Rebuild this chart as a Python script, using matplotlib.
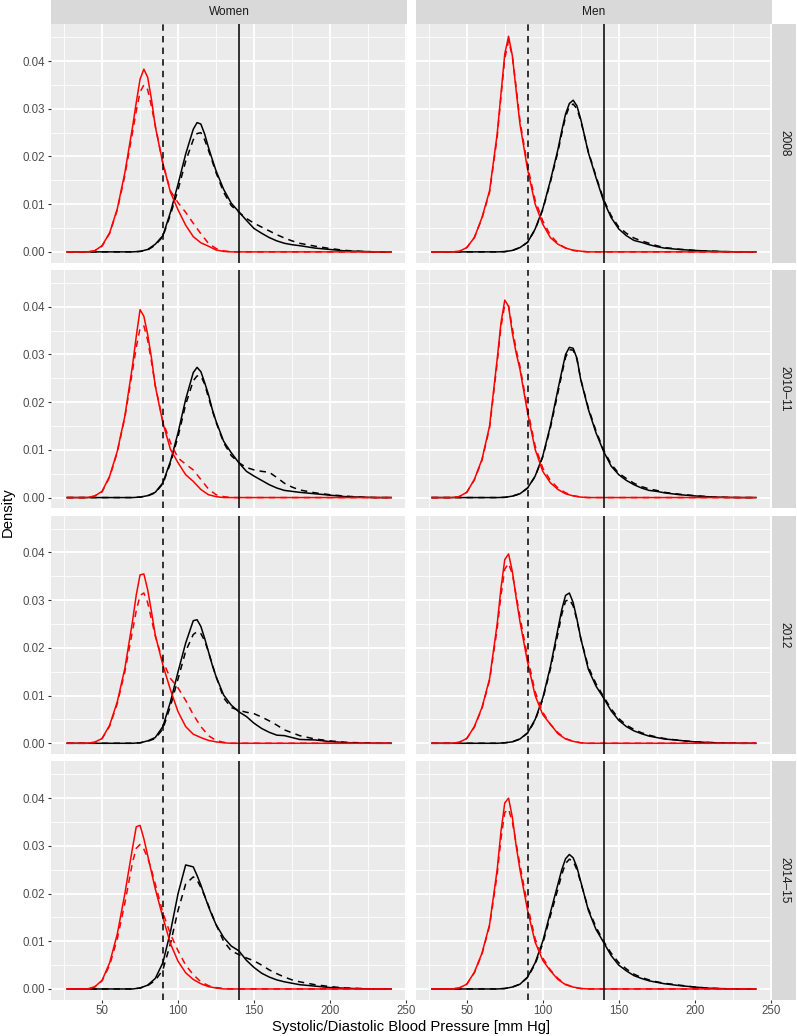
#!/usr/bin/env python3
"""
Density of systolic / diastolic blood pressure by sex and survey year
(ggplot-style facet grid redrawn in matplotlib)
"""

import matplotlib
matplotlib.use("Agg")
import matplotlib.pyplot as plt
from matplotlib.ticker import MultipleLocator, FormatStrFormatter

plt.rcParams["font.family"] = ["Liberation Sans", "DejaVu Sans"]

SEXES = ["Women", "Men"]
YEARS = ["2008", "2010\u201311", "2012", "2014\u201315"]
DIA_CUT = 90
SYS_CUT = 140

DIA_X = [27, 40, 45, 50, 55, 60, 65, 70, 72.5, 75, 77.5, 80, 82.5, 85, 90, 95,
         100, 105, 110, 115, 120, 125, 130, 135, 240.2]
SYS_X = [27, 70, 75, 80, 85, 90, 95, 100, 105, 110, 112.5, 115, 117.5, 120,
         122.5, 125, 130, 135, 140, 145, 150, 155, 160, 165, 170, 175, 180,
         190, 200, 210, 220, 230, 240.2]

# densities in units of 0.001 ; *_D = dashed curve
W08_DIA = [0, 0, 0.2, 1.3, 4.0, 9.0, 16.6, 26.1, 31.3, 36.2, 38.3, 36.6, 32.0, 26.3, 18.6, 12.5,
           8.8, 5.6, 3.2, 1.9, 1.2, 0.4, 0.1, 0, 0]
W08_DIA_D = [0, 0, 0.2, 1.2, 3.9, 8.8, 16.0, 25.0, 29.5, 33.5, 35.0, 34.0, 30.5, 26.5, 18.5, 12.8,
             10.3, 8.3, 6.0, 3.8, 1.8, 0.7, 0.2, 0, 0]
W08_SYS = [0, 0, 0.1, 0.5, 1.6, 3.4, 8.3, 14.2, 20.5, 25.7, 27.1, 26.8, 24.7, 21.9, 19.4, 17.0,
           13.1, 10.2, 8.4, 6.6, 4.9, 3.9, 3.0, 2.3, 1.8, 1.5, 1.3, 0.8, 0.5, 0.2, 0.1, 0, 0]
W08_SYS_D = [0, 0, 0.1, 0.4, 1.4, 3.2, 7.8, 13.0, 19.0, 23.5, 24.8, 25.0, 23.5, 21.3, 19.0, 16.6,
             12.5, 9.7, 8.3, 7.0, 6.0, 5.2, 4.4, 3.6, 2.9, 2.3, 1.8, 1.2, 0.7, 0.3, 0.1, 0, 0]

M08_DIA = [0, 0, 0.1, 0.9, 3.0, 7.2, 12.8, 24.7, 33.1, 41.5, 45.2, 41.1, 33.8, 26.8, 17.3, 10.0,
           5.8, 3.0, 1.6, 0.8, 0.35, 0.15, 0, 0, 0]
M08_DIA_D = [0, 0, 0.1, 0.9, 3.0, 7.0, 12.5, 24.0, 32.5, 40.5, 44.3, 41.0, 34.5, 27.5, 18.0, 10.8,
             6.5, 3.5, 1.8, 0.8, 0.3, 0.1, 0, 0, 0]
M08_SYS = [0, 0, 0.05, 0.3, 0.9, 2.0, 4.8, 9.0, 14.9, 21.5, 25.4, 28.9, 31.1, 31.8, 30.6, 27.8,
           20.8, 15.6, 10.7, 7.2, 4.8, 3.4, 2.4, 2.0, 1.5, 1.1, 0.8, 0.5, 0.3, 0.15, 0.05, 0, 0]
M08_SYS_D = [0, 0, 0.05, 0.3, 0.9, 2.0, 4.7, 8.8, 14.6, 21.0, 24.8, 28.3, 30.5, 31.0, 30.0, 27.5,
             21.0, 15.9, 11.0, 7.6, 5.2, 3.9, 2.9, 2.3, 1.8, 1.3, 0.9, 0.55, 0.3, 0.15, 0.05, 0, 0]

W10_DIA = [0, 0, 0.3, 1.3, 4.5, 9.7, 17.1, 27.6, 33.8, 39.4, 38.0, 34.2, 29.3, 23.4, 15.7, 10.1,
           7.3, 4.8, 3.4, 1.7, 0.6, 0.2, 0, 0, 0]
W10_DIA_D = [0, 0, 0.3, 1.2, 4.3, 9.5, 16.8, 26.5, 31.5, 35.5, 36.0, 33.0, 28.5, 23.5, 16.0, 11.5,
             8.3, 7.0, 5.8, 3.8, 1.8, 0.6, 0.2, 0, 0]
W10_SYS = [0, 0, 0.1, 0.4, 1.1, 3.1, 7.6, 13.6, 20.6, 26.2, 27.3, 26.4, 24.1, 21.6, 18.5, 16.0,
           11.8, 9.4, 7.3, 5.5, 4.5, 3.6, 2.7, 2.0, 1.5, 1.3, 1.1, 0.8, 0.5, 0.2, 0.1, 0, 0]
W10_SYS_D = [0, 0, 0.1, 0.35, 1.0, 2.9, 7.2, 12.8, 19.5, 24.5, 25.5, 25.5, 23.8, 21.0, 18.3, 15.8,
             11.5, 8.8, 7.3, 6.3, 5.8, 5.5, 5.3, 4.2, 3.0, 2.2, 1.6, 1.0, 0.6, 0.3, 0.1, 0, 0]

M10_DIA = [0, 0, 0.2, 1.1, 3.8, 8.0, 15.0, 29.0, 36.6, 41.4, 40.1, 34.5, 30.3, 26.9, 17.8, 10.1,
           5.5, 3.1, 1.7, 0.8, 0.35, 0.1, 0, 0, 0]
M10_DIA_D = [0, 0, 0.2, 1.1, 3.7, 7.8, 14.6, 28.2, 35.8, 40.4, 40.2, 35.5, 31.0, 27.5, 18.5, 10.8,
             6.2, 3.6, 2.0, 1.0, 0.4, 0.1, 0, 0, 0]
M10_SYS = [0, 0, 0.05, 0.3, 0.8, 2.0, 4.5, 8.7, 15.0, 22.7, 26.4, 30.0, 31.5, 31.3, 29.2, 24.7,
           18.5, 13.6, 9.7, 6.6, 4.8, 3.6, 2.7, 2.0, 1.5, 1.3, 1.0, 0.6, 0.35, 0.15, 0.05, 0, 0]
M10_SYS_D = [0, 0, 0.05, 0.3, 0.8, 2.0, 4.4, 8.5, 14.6, 22.0, 25.8, 29.4, 31.0, 30.9, 29.0, 24.8,
             18.8, 14.0, 10.0, 7.0, 5.1, 4.0, 3.0, 2.3, 1.8, 1.5, 1.1, 0.7, 0.4, 0.15, 0.05, 0, 0]

W12_DIA = [0, 0, 0.2, 1.0, 3.8, 8.7, 15.7, 25.5, 31.1, 35.3, 35.5, 32.2, 27.6, 22.7, 16.4, 11.2,
           6.6, 3.5, 1.9, 1.2, 0.6, 0.3, 0.1, 0, 0]
W12_DIA_D = [0, 0, 0.2, 1.0, 3.6, 8.3, 15.0, 23.5, 27.8, 31.0, 31.5, 29.5, 26.0, 22.5, 17.2, 13.6,
             11.6, 9.0, 6.0, 3.5, 1.6, 0.6, 0.2, 0, 0]
W12_SYS = [0, 0, 0.1, 0.5, 1.2, 3.5, 8.7, 15.0, 21.0, 25.7, 25.9, 24.5, 22.0, 19.2, 16.4, 14.0,
           10.1, 8.0, 6.6, 5.6, 4.2, 3.1, 2.3, 1.7, 1.6, 1.2, 0.8, 0.7, 0.35, 0.15, 0.05, 0, 0]
W12_SYS_D = [0, 0, 0.1, 0.4, 1.0, 3.0, 7.8, 13.5, 19.3, 22.8, 23.4, 23.0, 21.5, 19.2, 16.5, 14.0,
             9.5, 7.5, 6.9, 6.5, 6.2, 5.5, 4.7, 3.8, 2.8, 2.2, 1.6, 0.9, 0.5, 0.2, 0.1, 0, 0]

M12_DIA = [0, 0, 0.2, 1.0, 3.5, 7.5, 13.5, 25.0, 32.5, 38.5, 39.7, 36.0, 30.5, 25.5, 17.0, 10.0,
           6.0, 4.0, 2.0, 0.9, 0.4, 0.1, 0, 0, 0]
M12_DIA_D = [0, 0, 0.2, 1.0, 3.4, 7.3, 13.2, 24.0, 31.0, 36.5, 37.7, 35.5, 31.0, 26.5, 18.0, 10.8,
             6.5, 4.0, 2.2, 1.0, 0.4, 0.1, 0, 0, 0]
M12_SYS = [0, 0, 0.1, 0.3, 0.9, 2.2, 5.0, 9.5, 16.0, 24.0, 28.0, 31.0, 31.5, 29.5, 26.0, 22.0,
           15.5, 12.0, 9.5, 6.8, 4.8, 3.5, 2.6, 2.0, 1.5, 1.2, 0.9, 0.6, 0.3, 0.15, 0.05, 0, 0]
M12_SYS_D = [0, 0, 0.1, 0.3, 0.9, 2.1, 4.8, 9.2, 15.5, 23.0, 27.0, 29.8, 30.2, 28.8, 25.8, 22.0,
             16.0, 12.5, 9.8, 7.2, 5.2, 3.8, 2.9, 2.2, 1.7, 1.3, 1.0, 0.6, 0.3, 0.15, 0.05, 0, 0]

W14_DIA = [0, 0, 0.4, 1.8, 5.5, 11.5, 20.0, 29.5, 34.0, 34.3, 31.5, 28.0, 24.5, 21.0, 15.0, 9.5,
           5.8, 3.4, 2.0, 1.1, 0.5, 0.2, 0, 0, 0]
W14_DIA_D = [0, 0, 0.4, 1.7, 5.0, 10.5, 18.0, 26.5, 29.5, 30.3, 29.3, 27.5, 25.0, 22.0, 16.0, 11.5,
             8.0, 5.0, 3.0, 1.5, 0.7, 0.3, 0.1, 0, 0]
W14_SYS = [0, 0, 0.2, 0.8, 2.2, 5.5, 12.0, 20.0, 26.0, 25.6, 23.8, 21.8, 19.5, 17.3, 15.3, 13.5,
           10.8, 9.0, 8.0, 6.0, 4.5, 3.3, 2.5, 1.9, 1.5, 1.2, 0.9, 0.6, 0.3, 0.15, 0.05, 0, 0]
W14_SYS_D = [0, 0, 0.2, 0.7, 1.8, 4.0, 9.5, 16.5, 22.0, 23.5, 22.8, 21.3, 19.5, 17.5, 15.5, 13.5,
             10.0, 8.0, 7.2, 6.5, 5.9, 5.0, 4.0, 3.2, 2.5, 1.9, 1.5, 0.9, 0.5, 0.2, 0.1, 0, 0]

M14_DIA = [0, 0, 0.2, 1.0, 3.5, 7.5, 13.5, 25.0, 33.0, 39.0, 40.0, 36.0, 30.0, 25.0, 16.5, 9.8,
           6.0, 3.8, 2.0, 0.9, 0.4, 0.1, 0, 0, 0]
M14_DIA_D = [0, 0, 0.2, 1.0, 3.4, 7.3, 13.2, 24.0, 31.5, 37.0, 37.7, 35.0, 30.5, 26.0, 17.5, 10.5,
             6.5, 4.0, 2.2, 1.0, 0.4, 0.1, 0, 0, 0]
M14_SYS = [0, 0, 0.1, 0.4, 1.0, 2.5, 5.5, 10.0, 16.0, 22.0, 25.0, 27.3, 28.2, 27.5, 25.5, 22.5,
           16.5, 12.5, 9.8, 7.0, 5.0, 3.8, 2.8, 2.2, 1.7, 1.4, 1.1, 0.7, 0.4, 0.15, 0.05, 0, 0]
M14_SYS_D = [0, 0, 0.1, 0.4, 1.0, 2.4, 5.2, 9.5, 15.3, 21.0, 24.0, 26.3, 27.2, 26.8, 25.0, 22.3,
             16.8, 13.0, 10.0, 7.5, 5.5, 4.2, 3.1, 2.4, 1.9, 1.5, 1.2, 0.8, 0.4, 0.15, 0.05, 0, 0]

# (row, column) -> (dia solid, dia dashed, sys solid, sys dashed)
PANELS = {
    (0, 0): (W08_DIA, W08_DIA_D, W08_SYS, W08_SYS_D),
    (0, 1): (M08_DIA, M08_DIA_D, M08_SYS, M08_SYS_D),
    (1, 0): (W10_DIA, W10_DIA_D, W10_SYS, W10_SYS_D),
    (1, 1): (M10_DIA, M10_DIA_D, M10_SYS, M10_SYS_D),
    (2, 0): (W12_DIA, W12_DIA_D, W12_SYS, W12_SYS_D),
    (2, 1): (M12_DIA, M12_DIA_D, M12_SYS, M12_SYS_D),
    (3, 0): (W14_DIA, W14_DIA_D, W14_SYS, W14_SYS_D),
    (3, 1): (M14_DIA, M14_DIA_D, M14_SYS, M14_SYS_D),
}

W, H = 797, 1036
PANEL_LEFT = [51, 415.7]
PANEL_TOP = [24.3, 270.0, 515.7, 761.4]
PANEL_W, PANEL_H = 356.4, 238.4
STRIP = 24.4
DASH = (0, (4.2, 3.4))


def rect(left, top, w, h):
    return [left / W, 1 - (top + h) / H, w / W, h / H]


def per_mille(vals):
    return [v / 1000 for v in vals]


fig = plt.figure(figsize=(W / 100, H / 100), dpi=100)

for (r, c), (dia, dia_d, sys_, sys_d) in PANELS.items():
    ax = fig.add_axes(rect(PANEL_LEFT[c], PANEL_TOP[r], PANEL_W, PANEL_H))
    ax.set_facecolor("#EBEBEB")
    for s in ax.spines.values():
        s.set_visible(False)
    ax.set_xlim(16.4, 250.9)
    ax.set_ylim(-0.00227, 0.04771)
    ax.xaxis.set_major_locator(MultipleLocator(50))
    ax.xaxis.set_minor_locator(MultipleLocator(25))
    ax.yaxis.set_major_locator(MultipleLocator(0.01))
    ax.yaxis.set_minor_locator(MultipleLocator(0.005))
    ax.yaxis.set_major_formatter(FormatStrFormatter("%.2f"))
    ax.set_axisbelow(True)
    ax.grid(which="major", color="white", lw=1.3)
    ax.grid(which="minor", color="white", lw=0.6)
    ax.tick_params(which="minor", length=0)
    ax.tick_params(which="major", length=2.3, width=0.8, color="#333333",
                   labelcolor="#4D4D4D", labelsize=8.3, pad=1.8)
    if c != 0:
        ax.tick_params(left=False, labelleft=False)
    if r != 3:
        ax.tick_params(bottom=False, labelbottom=False)

    ax.plot(SYS_X, per_mille(sys_d), color="black", lw=1.1, ls=DASH)
    ax.plot(SYS_X, per_mille(sys_), color="black", lw=1.1)
    ax.plot(DIA_X, per_mille(dia_d), color="red", lw=1.1, ls=DASH)
    ax.plot(DIA_X, per_mille(dia), color="red", lw=1.1)
    ax.axvline(DIA_CUT, color="black", lw=1.1, ls=DASH)
    ax.axvline(SYS_CUT, color="black", lw=1.1)

# strips
for c, sex in enumerate(SEXES):
    sa = fig.add_axes(rect(PANEL_LEFT[c], 0, PANEL_W, STRIP))
    sa.set_facecolor("#D9D9D9")
    sa.set_xticks([])
    sa.set_yticks([])
    for s in sa.spines.values():
        s.set_visible(False)
    sa.text(0.5, 0.5, sex, ha="center", va="center", fontsize=8.6,
            color="#1A1A1A", transform=sa.transAxes)

for r, year in enumerate(YEARS):
    sa = fig.add_axes(rect(PANEL_LEFT[1] + PANEL_W, PANEL_TOP[r], STRIP, PANEL_H))
    sa.set_facecolor("#D9D9D9")
    sa.set_xticks([])
    sa.set_yticks([])
    for s in sa.spines.values():
        s.set_visible(False)
    sa.text(0.5, 0.5, year, ha="center", va="center", rotation=-90,
            fontsize=8.6, color="#1A1A1A", transform=sa.transAxes)

fig.text(411.5 / W, 1 - 1027 / H, "Systolic/Diastolic Blood Pressure [mm Hg]",
         ha="center", va="center", fontsize=10.7)
fig.text(8 / W, 1 - 512 / H, "Density", ha="center", va="center",
         rotation=90, fontsize=10.7)

fig.savefig("out.png", dpi=100)
